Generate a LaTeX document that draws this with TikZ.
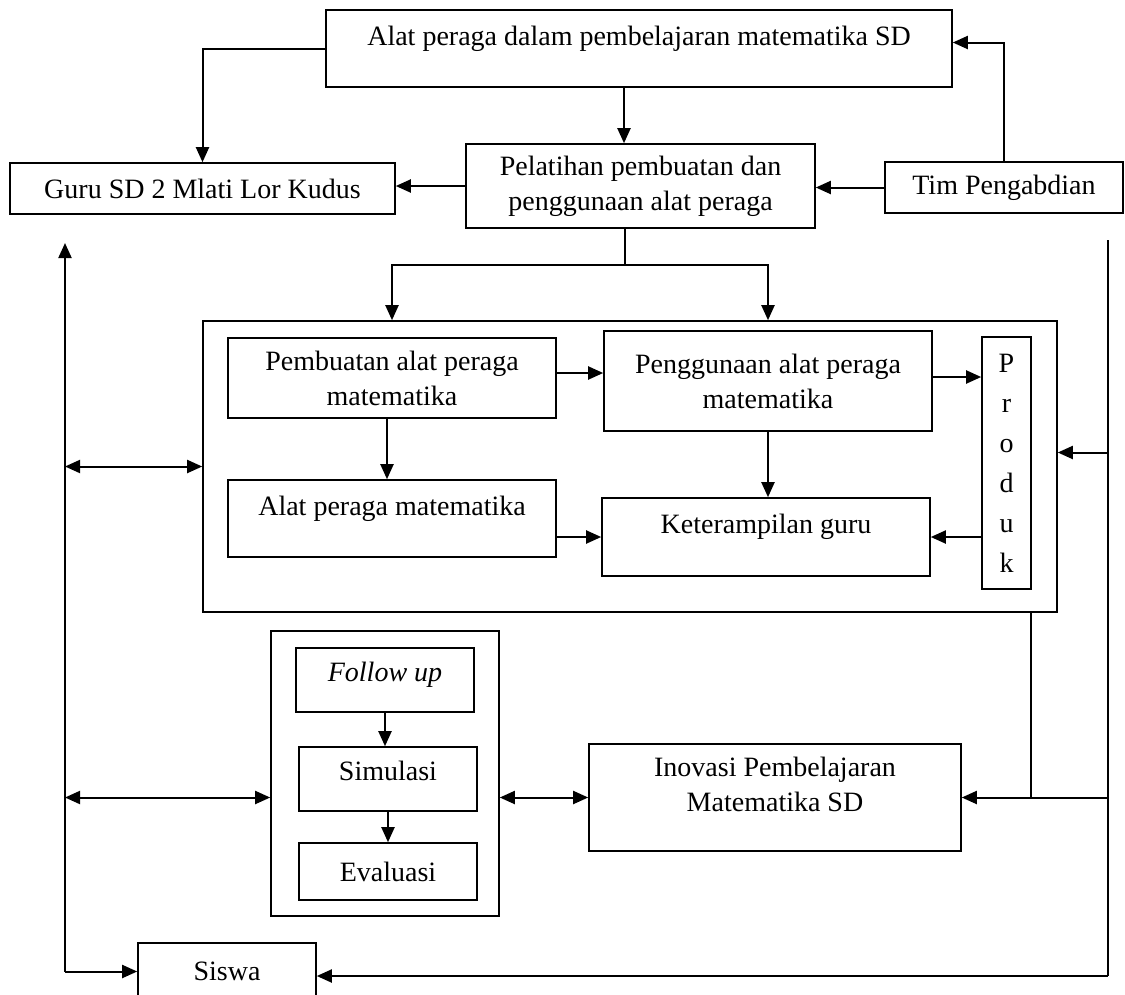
\documentclass[tikz,border=0pt]{standalone}
\usepackage{fontspec}
\setmainfont{Liberation Serif}
\usetikzlibrary{arrows.meta}

\begin{document}
\begin{tikzpicture}[x=1pt,y=-1pt]
\tikzstyle{every node}+=[inner sep=0pt, font=\fontsize{28}{35}\selectfont]
\tikzstyle{kotak}=[draw, line width=1.6pt, rectangle, align=center]
\tikzstyle{panah}=[line width=2pt, -{Triangle[length=15pt,width=13pt]}]
\tikzstyle{panahdua}=[line width=2pt, {Triangle[length=15pt,width=13pt]}-{Triangle[length=15pt,width=13pt]}]
\tikzstyle{garis}=[line width=2pt]
\clip (0,0) rectangle (1125,994);
\node[kotak, minimum width=626pt, minimum height=77pt, text depth=26pt] (judul) at (639,48.5) {Alat peraga dalam pembelajaran matematika SD};
\node[kotak, minimum width=385pt, minimum height=51pt] (guru) at (202.5,188.5) {Guru SD 2 Mlati Lor Kudus};
\node[kotak, minimum width=349pt, minimum height=84pt] (pelatihan) at (640.5,186) {Pelatihan pembuatan dan\\penggunaan alat peraga};
\node[kotak, minimum width=238pt, minimum height=51pt] (tim) at (1004,187.5) {Tim Pengabdian};
\node[kotak, minimum width=854pt, minimum height=291pt] (kegiatan) at (630,466.5) {};
\node[kotak, minimum width=328pt, minimum height=80pt] (pembuatan) at (392,378) {Pembuatan alat peraga\\matematika};
\node[kotak, minimum width=328pt, minimum height=100pt] (penggunaan) at (768,381) {Penggunaan alat peraga\\matematika};
\node[kotak, minimum width=328pt, minimum height=77pt, text depth=26pt] (alat) at (392,518.5) {Alat peraga matematika};
\node[kotak, minimum width=328pt, minimum height=78pt, text depth=26pt] (keterampilan) at (766,537) {Keterampilan guru};
\node[kotak, minimum width=49pt, minimum height=252pt, font=\fontsize{28}{40}\selectfont] (produk) at (1006.5,463) {P\\r\\o\\d\\u\\k};
\node[kotak, minimum width=228pt, minimum height=285pt] (tindak) at (385,773.5) {};
\node[kotak, minimum width=178pt, minimum height=64pt, text depth=16pt] (followup) at (385,680) {\textit{Follow up}};
\node[kotak, minimum width=178pt, minimum height=64pt, text depth=16pt] (simulasi) at (388,779) {Simulasi};
\node[kotak, minimum width=178pt, minimum height=57pt] (evaluasi) at (388,871.5) {Evaluasi};
\node[kotak, minimum width=372pt, minimum height=107pt, text depth=26pt] (inovasi) at (775,797.5) {Inovasi Pembelajaran\\Matematika SD};
\node[kotak, minimum width=178pt, minimum height=57pt] (siswa) at (227,971.5) {Siswa};
\coordinate (cabang) at (625,265);
\coordinate (kiriatas) at (65,243);
\coordinate (kiribawah) at (65,971.5);
\coordinate (kananatas) at (1108,240);
\coordinate (kananbawah) at (1108,976);
\coordinate (masuk) at ([yshift=14pt]kegiatan.east);
\draw[panah] (judul.west) -| (guru.north);
\draw[panah] ([xshift=-15pt]judul.south) -- ([xshift=-15pt]judul.south |- pelatihan.north);
\draw[panah] (pelatihan.west) -- (pelatihan.west -| guru.east);
\draw[panah] (tim.west) -- (tim.west -| pelatihan.east);
\draw[panah] (tim.north) |- ([yshift=6pt]judul.east);
\draw[garis] (cabang |- pelatihan.south) -- (cabang);
\draw[panah] (cabang) -| (pembuatan |- kegiatan.north);
\draw[panah] (cabang) -| (penggunaan |- kegiatan.north);
\draw[panah] ([yshift=5pt]pembuatan.east) -- ([yshift=5pt]pembuatan.east -| penggunaan.west);
\draw[panah] ([xshift=-5pt]pembuatan.south) -- ([xshift=-5pt]pembuatan.south |- alat.north);
\draw[panah] (keterampilan.west -| alat.east) -- (keterampilan.west);
\draw[panah] (penggunaan.south) -- (penggunaan.south |- keterampilan.north);
\draw[panah] ([yshift=4pt]penggunaan.east) -- ([yshift=4pt]penggunaan.east -| produk.west);
\draw[panah] (produk.west |- keterampilan.east) -- (keterampilan.east);
\draw[panah] (followup) -- (followup |- simulasi.north);
\draw[panah] (simulasi) -- (evaluasi);
\draw[panah] (kiribawah) -- (kiriatas);
\draw[panah] (kiribawah) -- (siswa.west);
\draw[panahdua] (kiriatas |- kegiatan.west) -- (kegiatan.west);
\draw[panahdua] (kiriatas |- inovasi.west) -- (tindak.west |- inovasi.west);
\draw[panahdua] (tindak.east |- inovasi.west) -- (inovasi.west);
\draw[garis] (kananatas) -- (kananbawah);
\draw[panah] (kananbawah) -- (kananbawah -| siswa.east);
\draw[panah] (kananatas |- masuk) -- (masuk);
\draw[panah] (kananatas |- inovasi.east) -- (inovasi.east);
\draw[garis] ([xshift=-27pt]kegiatan.south east) -- ([xshift=-27pt]kegiatan.south east |- inovasi.east);
\end{tikzpicture}
\end{document}
